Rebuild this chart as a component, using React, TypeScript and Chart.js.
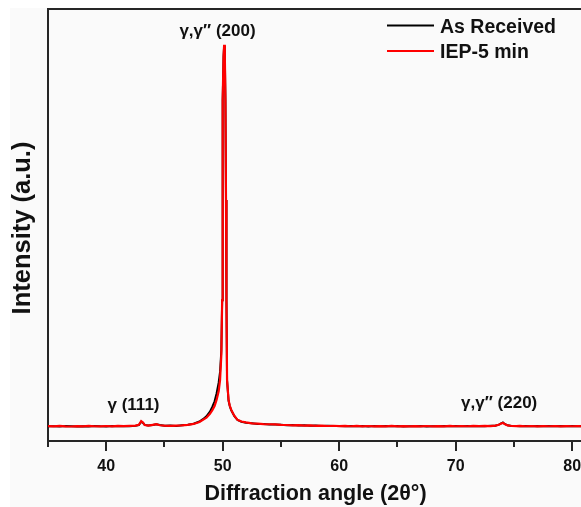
import React, { useEffect, useRef } from "react";
import { Chart, registerables } from "chart.js";

Chart.register(...registerables);

// ---- data ----
const twoTheta = [
  35.0, 35.5, 36.0, 36.5, 37.0, 37.5, 38.0, 38.5, 39.0, 39.5,
  40.0, 40.5, 41.0, 41.5, 42.0, 42.5, 42.8, 43.0, 43.15, 43.3,
  43.6, 44.0, 44.3, 44.6, 45.0, 45.5, 46.0, 46.5, 47.0, 47.5,
  48.0, 48.3, 48.6, 48.9, 49.12, 49.3, 49.47, 49.65, 49.77, 49.88,
  49.95, 49.97, 50.02, 50.07, 50.12, 50.18, 50.23, 50.28, 50.32, 50.37,
  50.5, 50.6, 50.73, 51.0, 51.27, 51.6, 52.0, 52.5, 53.0, 53.5,
  54.0, 54.5, 55.0, 55.5, 56.0, 56.5, 57.0, 57.5, 58.0, 58.5,
  59.0, 59.5, 60.0, 60.5, 61.0, 61.5, 62.0, 62.5, 63.0, 63.5,
  64.0, 64.5, 65.0, 65.5, 66.0, 66.5, 67.0, 67.5, 68.0, 68.5,
  69.0, 69.5, 70.0, 70.5, 71.0, 71.5, 72.0, 72.5, 73.0, 73.4,
  73.7, 73.9, 74.05, 74.2, 74.45, 74.8, 75.2, 75.5, 76.0, 76.5,
  77.0, 77.5, 78.0, 78.5, 79.0, 79.5, 80.0, 80.5, 81.0, 81.5,
];

const asReceived = [
  3.40, 3.42, 3.36, 3.47, 3.40, 3.35, 3.44, 3.38, 3.48, 3.40,
  3.36, 3.45, 3.40, 3.50, 3.44, 3.50, 3.70, 4.45, 4.20, 3.72,
  3.58, 3.70, 3.88, 3.70, 3.52, 3.56, 3.50, 3.64, 3.78, 4.00,
  4.50, 5.05, 5.70, 6.80, 8.00, 9.20, 11.0, 13.5, 16.0, 21.0,
  32.6, 55.8, 79.0, 89.0, 91.5, 89.0, 79.0, 55.8, 32.6, 14.1,
  9.30, 8.10, 7.10, 5.75, 4.85, 4.45, 4.25, 4.12, 3.96, 3.95,
  3.84, 3.80, 3.78, 3.66, 3.68, 3.58, 3.62, 3.52, 3.57, 3.48,
  3.54, 3.45, 3.50, 3.42, 3.49, 3.40, 3.46, 3.38, 3.45, 3.40,
  3.47, 3.39, 3.46, 3.38, 3.44, 3.40, 3.46, 3.38, 3.44, 3.40,
  3.47, 3.42, 3.48, 3.41, 3.47, 3.42, 3.49, 3.44, 3.52, 3.55,
  3.80, 4.10, 4.30, 3.95, 3.62, 3.50, 3.48, 3.42, 3.47, 3.40,
  3.46, 3.41, 3.47, 3.40, 3.46, 3.42, 3.47, 3.41, 3.46, 3.40,
];

const iep5min = [
  3.45, 3.38, 3.50, 3.40, 3.36, 3.46, 3.40, 3.52, 3.42, 3.38,
  3.47, 3.40, 3.50, 3.43, 3.52, 3.55, 3.75, 4.60, 4.30, 3.70,
  3.55, 3.75, 3.90, 3.65, 3.55, 3.50, 3.56, 3.60, 3.75, 3.95,
  4.40, 4.90, 5.40, 6.30, 7.20, 8.10, 9.50, 11.5, 14.1, 20.0,
  32.6, 55.8, 79.0, 89.0, 91.7, 89.0, 79.0, 55.8, 32.6, 14.1,
  9.50, 8.20, 7.20, 5.80, 4.90, 4.50, 4.30, 4.10, 4.00, 3.92,
  3.88, 3.85, 3.75, 3.70, 3.62, 3.66, 3.55, 3.60, 3.50, 3.56,
  3.47, 3.53, 3.44, 3.50, 3.42, 3.48, 3.40, 3.47, 3.38, 3.46,
  3.40, 3.48, 3.39, 3.45, 3.37, 3.44, 3.40, 3.47, 3.38, 3.45,
  3.40, 3.48, 3.42, 3.47, 3.41, 3.48, 3.43, 3.50, 3.46, 3.55,
  3.75, 4.05, 4.20, 3.95, 3.60, 3.47, 3.43, 3.48, 3.42, 3.47,
  3.40, 3.46, 3.41, 3.47, 3.40, 3.46, 3.42, 3.47, 3.41, 3.45,
];

const seriesNames = ["As Received", "IEP-5 min"];
const seriesColors = ["#000000", "#ff0000"];
const xTickValues = [40, 50, 60, 70, 80];
const xTickMarks = [35, 40, 45, 50, 55, 60, 65, 70, 75, 80];
const xTitle = "Diffraction angle (2θ°)";
const yTitle = "Intensity (a.u.)";
const peakGreek = ["γ", "γ,γ′′", "γ,γ′′"];
const peakHkl = ["(111)", "(200)", "(220)"];
const peakLabelX = [42.34, 49.55, 73.73];
const peakLabelY = [7.2, 93.75, 7.75];

const FAMILY = "'Liberation Sans', Arial, sans-serif";
const AXIS = "#262626";

const decorPlugin = {
  id: "decor",
  afterDraw(chart: any) {
    const { ctx, chartArea, scales } = chart;
    const xs = scales.x;
    const ys = scales.y;
    ctx.save();
    // top frame line
    ctx.strokeStyle = AXIS;
    ctx.lineWidth = 2;
    ctx.beginPath();
    ctx.moveTo(chartArea.left - 1, chartArea.top);
    ctx.lineTo(chartArea.right, chartArea.top);
    ctx.stroke();
    // tick marks (outward)
    for (const v of xTickMarks) {
      const px = Math.round(xs.getPixelForValue(v));
      const len = v % 10 === 0 ? 10 : 6;
      ctx.beginPath();
      ctx.moveTo(px, chartArea.bottom);
      ctx.lineTo(px, chartArea.bottom + len);
      ctx.stroke();
    }
    // axis titles
    ctx.fillStyle = "#111";
    ctx.font = `bold 21.5px ${FAMILY}`;
    ctx.textAlign = "center";
    ctx.textBaseline = "alphabetic";
    ctx.fillText(xTitle, 305.5, 492);
    ctx.save();
    ctx.translate(13, 220);
    ctx.rotate(-Math.PI / 2);
    ctx.textBaseline = "middle";
    ctx.font = `bold 25.5px ${FAMILY}`;
    ctx.fillText(yTitle, 0, 0);
    ctx.restore();
    // legend
    ctx.textAlign = "left";
    ctx.font = `bold 19.5px ${FAMILY}`;
    const rows = [24.5, 50];
    seriesNames.forEach((name, i) => {
      const ly = rows[i] - 7;
      ctx.strokeStyle = seriesColors[i];
      ctx.lineWidth = 2;
      ctx.beginPath();
      ctx.moveTo(377, ly);
      ctx.lineTo(424, ly);
      ctx.stroke();
      ctx.fillStyle = "#111";
      ctx.fillText(name, 430, rows[i]);
    });
    // peak labels
    const greekFont = `bold 17px ${FAMILY}`;
    const hklFont = `bold 17px ${FAMILY}`;
    peakGreek.forEach((g, i) => {
      ctx.font = greekFont;
      const w1 = ctx.measureText(g).width;
      ctx.font = hklFont;
      const w2 = ctx.measureText(" " + peakHkl[i]).width;
      const cx = xs.getPixelForValue(peakLabelX[i]);
      const by = ys.getPixelForValue(peakLabelY[i]);
      const sx = cx - (w1 + w2) / 2;
      ctx.fillStyle = "#111";
      ctx.font = greekFont;
      ctx.fillText(g, sx, by);
      ctx.font = hklFont;
      ctx.fillText(" " + peakHkl[i], sx + w1, by);
    });
    ctx.restore();
  },
};

export default function App() {
  const ref = useRef<HTMLCanvasElement>(null);
  useEffect(() => {
    if (!ref.current) return;
    const chart = new Chart(ref.current, {
      type: "line",
      data: {
        datasets: [
          {
            label: seriesNames[0],
            data: twoTheta.map((x, i) => ({ x, y: asReceived[i] })),
            borderColor: seriesColors[0],
            borderWidth: 2,
            pointRadius: 0,
            tension: 0,
            order: 2,
          },
          {
            label: seriesNames[1],
            data: twoTheta.map((x, i) => ({ x, y: iep5min[i] })),
            borderColor: seriesColors[1],
            borderWidth: 2.2,
            pointRadius: 0,
            tension: 0,
            order: 1,
          },
        ],
      },
      options: {
        animation: false,
        responsive: false,
        devicePixelRatio: 1,
        layout: { padding: { top: 1, right: 0, bottom: 0, left: 0 } },
        plugins: { legend: { display: false }, tooltip: { enabled: false } },
        scales: {
          x: {
            type: "linear",
            min: 35,
            max: 84.96,
            afterBuildTicks: (s: any) => {
              s.ticks = xTickValues.map((v) => ({ value: v }));
            },
            ticks: {
              color: "#111",
              font: { family: FAMILY, size: 16, weight: "bold" },
              padding: 16,
              maxRotation: 0,
              autoSkip: false,
              callback: (v: any) => String(v),
            },
            grid: { display: false, drawTicks: false },
            border: { display: true, color: AXIS, width: 2 },
            afterFit: (s: any) => {
              s.height = 66;
            },
          },
          y: {
            min: 0,
            max: 100,
            ticks: { display: false },
            grid: { display: false, drawTicks: false },
            border: { display: true, color: AXIS, width: 2 },
            afterFit: (s: any) => {
              s.width = 38;
            },
          },
        },
      },
      plugins: [decorPlugin],
    });
    return () => chart.destroy();
  }, []);
  return (
    <div
      style={{
        position: "absolute",
        left: 10,
        top: 8,
        width: 571,
        height: 499,
        overflow: "hidden",
        background: "#fafafa",
      }}
    >
      <canvas ref={ref} width={620} height={499} style={{ display: "block" }} />
    </div>
  );
}
